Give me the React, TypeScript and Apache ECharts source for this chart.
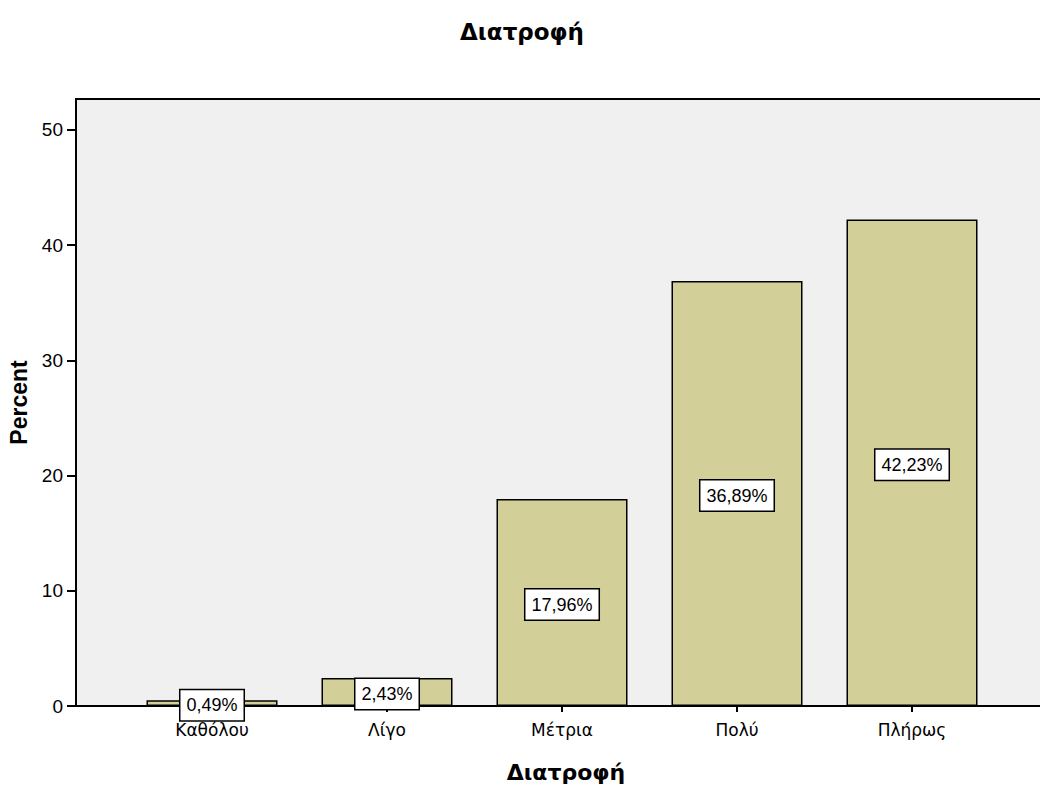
import React, { useEffect, useRef } from "react";
import * as echarts from "echarts";

const categories = ["Καθόλου", "Λίγο", "Μέτρια", "Πολύ", "Πλήρως"];
const percents = [0.49, 2.43, 17.96, 36.89, 42.23];
const percentLabels = ["0,49%", "2,43%", "17,96%", "36,89%", "42,23%"];
const yMax = 52.69;

export default function App() {
  const ref = useRef<HTMLDivElement>(null);
  useEffect(() => {
    if (!ref.current) return;
    const chart = echarts.init(ref.current, undefined, { renderer: "svg" });
    const font = "Liberation Sans, Arial, sans-serif";
    const greek = "DejaVu Sans, Liberation Sans, sans-serif";
    chart.setOption({
      animation: false,
      textStyle: { fontFamily: font },
      title: {
        text: "Διατροφή",
        left: 517,
        top: 15,
        textAlign: "center",
        textStyle: { fontSize: 23, fontWeight: "bold", color: "#000", fontFamily: greek },
      },
      grid: [
        {
          left: 76,
          top: 99,
          width: 980,
          height: 607,
          show: true,
          backgroundColor: "#f0f0f0",
          borderColor: "#000",
          borderWidth: 2,
          containLabel: false,
          outerBoundsMode: "none",
          z: 0,
        },
        { left: 124.5, top: 99, width: 875, height: 607, containLabel: false, outerBoundsMode: "none" },
      ],
      xAxis: [
        {
          gridIndex: 0,
          type: "value",
          min: 0,
          max: 1,
          axisLine: { show: true, lineStyle: { color: "#000", width: 2 } },
          axisTick: { show: false },
          axisLabel: { show: false },
          splitLine: { show: false },
          name: "Διατροφή",
          nameLocation: "middle",
          nameGap: 55,
          nameTextStyle: { fontSize: 22, fontWeight: "bold", color: "#000", fontFamily: greek, align: "center" },
        },
        {
          gridIndex: 1,
          type: "category",
          data: categories,
          axisLine: { show: false },
          axisTick: { show: true, alignWithLabel: true, length: 6, lineStyle: { color: "#000", width: 2 } },
          axisLabel: { color: "#000", fontSize: 17, margin: 15, fontFamily: greek },
        },
      ],
      yAxis: [
        {
          gridIndex: 0,
          type: "value",
          min: 0,
          max: yMax,
          interval: 10,
          axisLine: { show: true, lineStyle: { color: "#000", width: 2 } },
          axisTick: { show: true, length: 9, lineStyle: { color: "#000", width: 2 } },
          axisLabel: {
            color: "#000",
            fontSize: 19,
            margin: 13,
            fontFamily: font,
            showMaxLabel: false,
            formatter: (v: number) => (v % 10 === 0 && v <= 50 ? String(v) : ""),
          },
          splitLine: { show: false },
          name: "Percent",
          nameLocation: "middle",
          nameGap: 44,
          nameRotate: 90,
          nameTextStyle: { fontSize: 23, fontWeight: "bold", color: "#000", fontFamily: font },
        },
        {
          gridIndex: 1,
          type: "value",
          min: 0,
          max: yMax,
          show: false,
          splitLine: { show: false },
        },
      ],
      series: [
        {
          type: "bar",
          xAxisIndex: 1,
          yAxisIndex: 1,
          data: percents,
          barWidth: 131,
          z: 5,
          itemStyle: { color: "#d3cf98", borderColor: "#000", borderWidth: 1.5 },
          label: {
            show: true,
            position: "inside",
            offset: [0, 2],
            formatter: (p: any) => percentLabels[p.dataIndex],
            color: "#000",
            fontSize: 18,
            fontFamily: font,
            backgroundColor: "#fff",
            borderColor: "#000",
            borderWidth: 1.5,
            padding: [7, 6, 5, 6],
          },
        },
      ],
    });
    return () => chart.dispose();
  }, []);
  return (
    <div
      ref={ref}
      style={{ position: "absolute", left: 0, top: 0, width: 1040, height: 785, background: "#fff" }}
    />
  );
}
